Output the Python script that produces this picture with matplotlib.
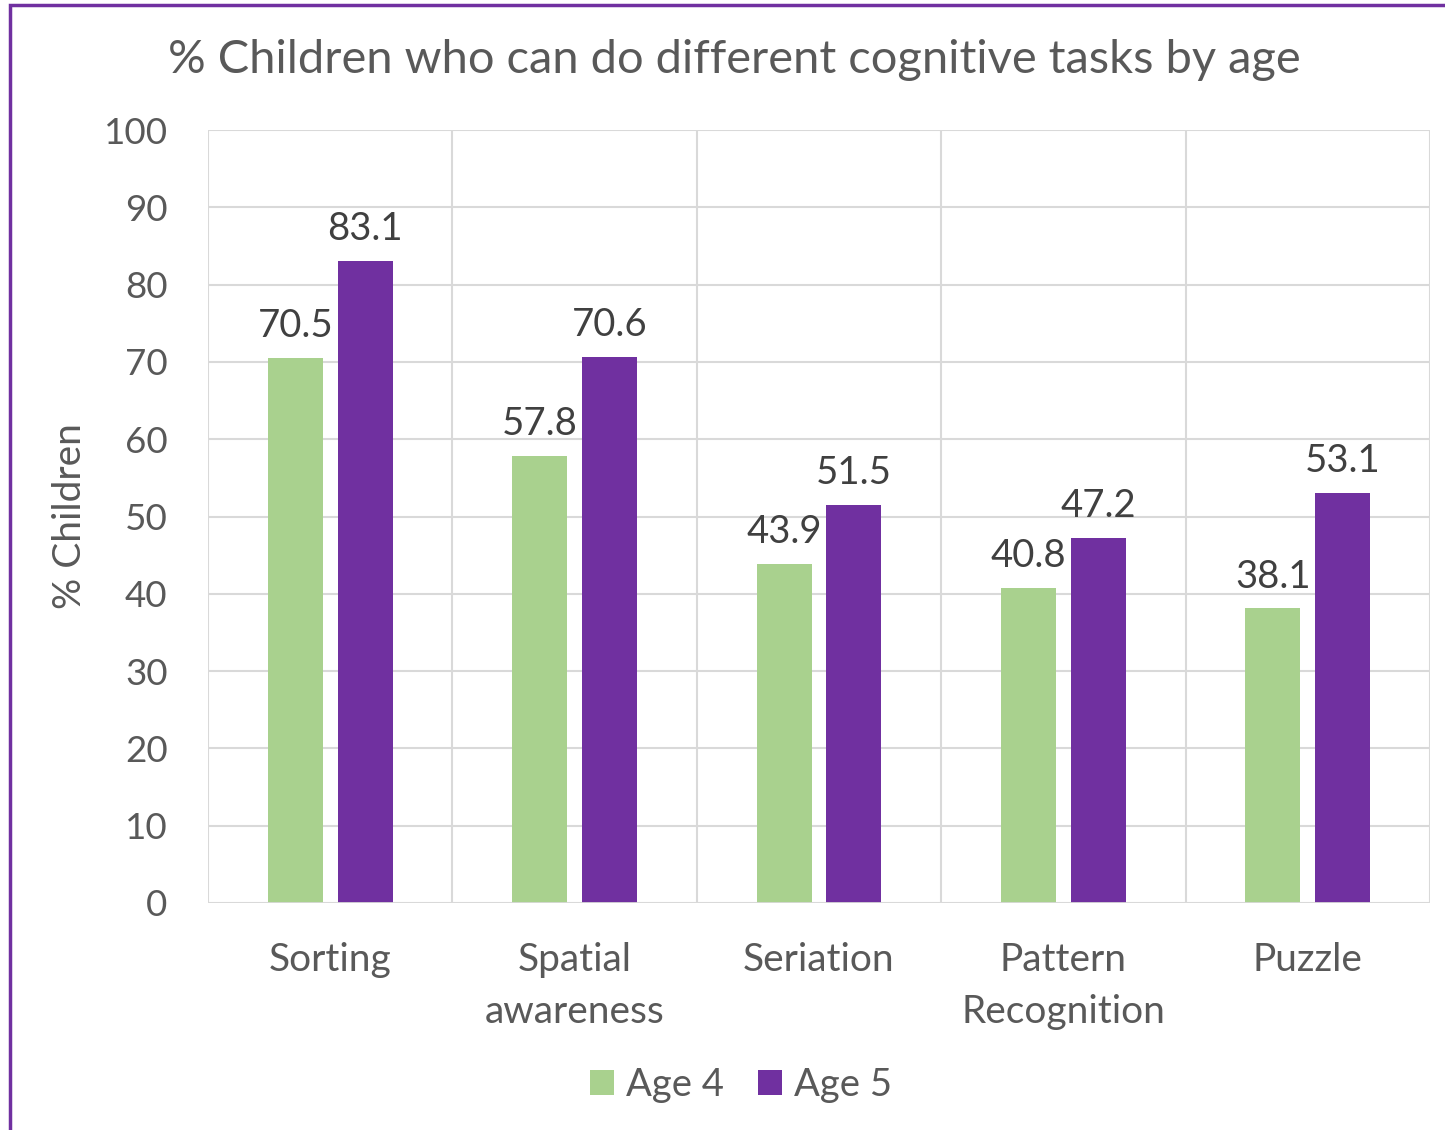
import numpy as np
import matplotlib.pyplot as plt
from matplotlib.patches import Rectangle

# データ
categories = ["Sorting", "Spatial\nawareness", "Seriation", "Pattern\nRecognition", "Puzzle"]
age4 = [70.5, 57.8, 43.9, 40.8, 38.1]
age5 = [83.1, 70.6, 51.5, 47.2, 53.1]
series_names = ["Age 4", "Age 5"]

green = '#A9D18E'
purple = '#7030A0'
gray_text = '#595959'
grid_col = '#D9D9D9'

plt.rcParams['font.family'] = ['Lato', 'DejaVu Sans']

fig = plt.figure(figsize=(14.45, 11.3), dpi=100)
ax = fig.add_axes([208 / 1445, 1 - 903 / 1130, 1222 / 1445, 773 / 1130])

x = np.arange(len(categories))
w = 0.225
off = 0.143
b1 = ax.bar(x - off, age4, w, color=green, label=series_names[0], zorder=3)
b2 = ax.bar(x + off, age5, w, color=purple, label=series_names[1], zorder=3)

# データラベル
for bars in (b1, b2):
    for bar in bars:
        h = bar.get_height()
        ax.annotate(f"{h:.1f}", (bar.get_x() + bar.get_width() / 2, h),
                    xytext=(0, 10), textcoords='offset points',
                    ha='center', va='bottom', fontsize=27.5, color='#404040')

ax.set_xlim(-0.5, len(categories) - 0.5)
ax.set_ylim(0, 100)
ax.set_yticks(range(0, 101, 10))
ax.set_xticks(x)
ax.set_xticklabels(categories, linespacing=1.57)
ax.tick_params(axis='both', length=0, labelcolor=gray_text)
ax.tick_params(axis='x', pad=28, labelsize=28)
ax.tick_params(axis='y', pad=29, labelsize=26.5)

# グリッド
ax.yaxis.grid(True, color=grid_col, linewidth=1.5, zorder=0)
for xv in np.arange(-0.5, len(categories), 1.0):
    ax.axvline(xv, color=grid_col, linewidth=1.5, zorder=0)
for s in ax.spines.values():
    s.set_visible(False)
ax.axhline(0, color=grid_col, linewidth=2, zorder=4)

ax.set_ylabel("% Children", fontsize=28, color=gray_text)
ax.yaxis.set_label_coords(-0.098, 0.5)

fig.text(734 / 1445, 1 - 60 / 1130, "% Children who can do different cognitive tasks by age",
         ha='center', va='center', fontsize=33.8, color=gray_text)

leg = fig.legend(handles=[b1, b2], loc='center', bbox_to_anchor=(741 / 1445, 1 - 1085 / 1130),
                 ncol=2, frameon=False, fontsize=27.5, handlelength=0.63, handleheight=0.63,
                 handletextpad=0.3, columnspacing=0.9)
for t in leg.get_texts():
    t.set_color(gray_text)

# 外枠
fig.patches.append(Rectangle((10 / 1445, -0.05), 1.1, 1 - 5 / 1130 + 0.05,
                             transform=fig.transFigure, fill=False,
                             edgecolor=purple, linewidth=2.5))

fig.savefig("out.png", dpi=100)
